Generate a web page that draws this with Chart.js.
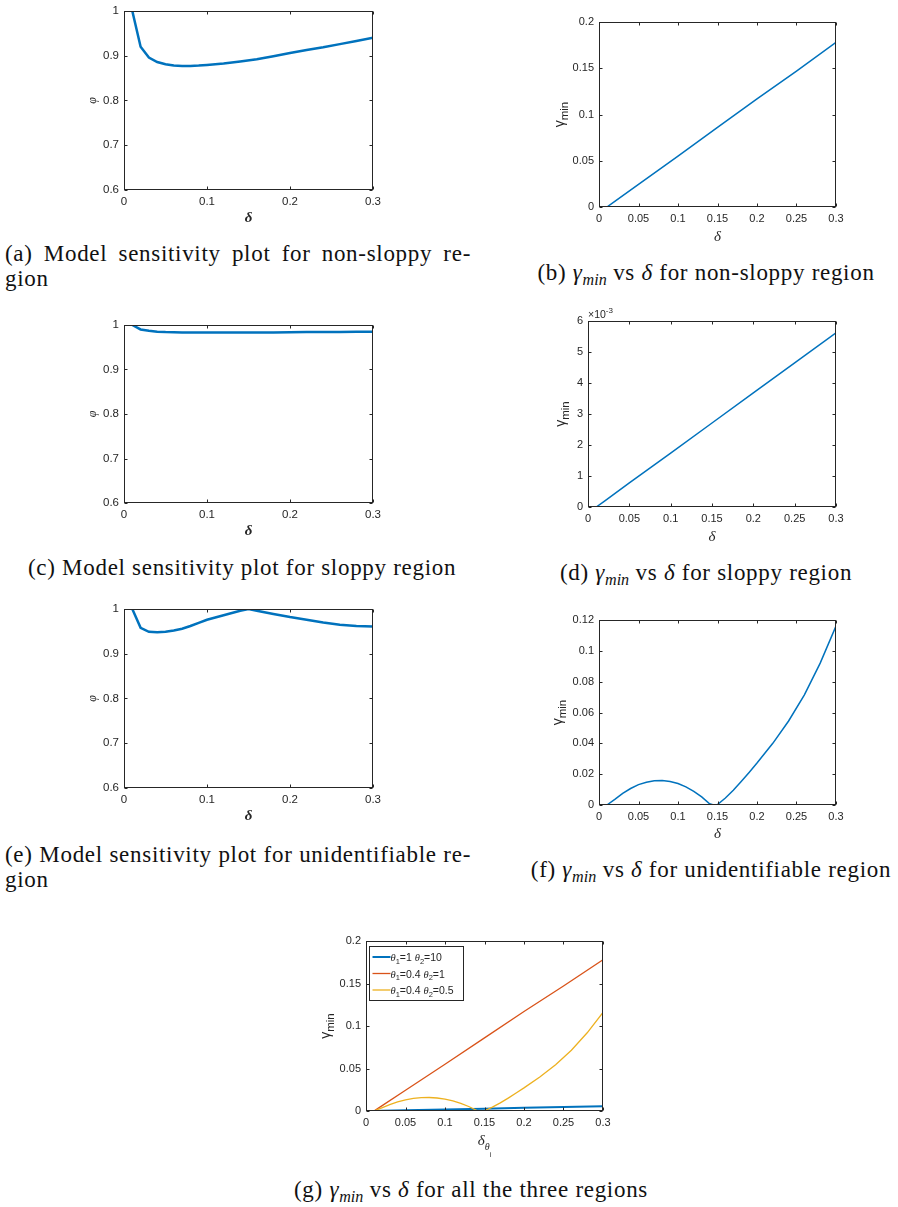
<!DOCTYPE html>
<html>
<head>
<meta charset="utf-8">
<script src="https://cdn.jsdelivr.net/npm/chart.js@4.4.0/dist/chart.umd.min.js"></script>
<style>
  body { margin: 0; background: #fff; width: 898px; height: 1207px; position: relative; overflow: hidden; }
  canvas { position: absolute; }
  .cap { position: absolute; font-family: "Liberation Serif", "Times New Roman", serif; font-size: 23px; line-height: 25px; letter-spacing: 0.7px; color: #111; white-space: nowrap; }
  .cap.c { text-align: center; }
  .just { text-align: justify; text-align-last: justify; }
  .cap sub { font-size: 0.7em; vertical-align: -0.28em; line-height: 0; letter-spacing: 0; }
</style>
</head>
<body>
<canvas id="a"></canvas>
<canvas id="b"></canvas>
<canvas id="c"></canvas>
<canvas id="d"></canvas>
<canvas id="e"></canvas>
<canvas id="f"></canvas>
<canvas id="g"></canvas>

<div class="cap" style="left:5px; top:241px; width:466px;">
  <div class="just">(a) Model sensitivity plot for non-sloppy re-</div>
  <div>gion</div>
</div>
<div class="cap c" style="left:506px; top:260px; width:400px;">(b) <i>γ<sub>min</sub></i> vs <i>δ</i> for non-sloppy region</div>
<div class="cap c" style="left:28px; top:555px; width:420px;">(c) Model sensitivity plot for sloppy region</div>
<div class="cap c" style="left:506px; top:560px; width:400px;">(d) <i>γ<sub>min</sub></i> vs <i>δ</i> for sloppy region</div>
<div class="cap" style="left:5px; top:842px; width:466px;">
  <div class="just">(e) Model sensitivity plot for unidentifiable re-</div>
  <div>gion</div>
</div>
<div class="cap c" style="left:511px; top:857px; width:400px;">(f) <i>γ<sub>min</sub></i> vs <i>δ</i> for unidentifiable region</div>
<div class="cap c" style="left:271px; top:1177px; width:400px;">(g) <i>γ<sub>min</sub></i> vs <i>δ</i> for all the three regions</div>

<script>
// phi vs delta (a, c)
const deltaPhi = [0.01, 0.02, 0.03, 0.04, 0.05, 0.06, 0.07, 0.08, 0.09, 0.1, 0.12, 0.14, 0.16, 0.18, 0.2, 0.22, 0.24, 0.26, 0.28, 0.3];
const phiNonSloppy = [1.0, 0.920, 0.896, 0.886, 0.881, 0.878, 0.877, 0.877, 0.878, 0.8795, 0.8825, 0.887, 0.892, 0.899, 0.906, 0.913, 0.919, 0.926, 0.933, 0.940];
const phiSloppy = [1.0, 0.990, 0.987, 0.985, 0.984, 0.9835, 0.983, 0.983, 0.983, 0.983, 0.983, 0.983, 0.983, 0.983, 0.9835, 0.984, 0.984, 0.9845, 0.985, 0.985];
// phi vs delta (e)
const deltaPhiUnid = [0.01, 0.02, 0.03, 0.04, 0.05, 0.06, 0.07, 0.08, 0.09, 0.1, 0.12, 0.14, 0.15, 0.16, 0.18, 0.2, 0.22, 0.24, 0.26, 0.28, 0.3];
const phiUnid = [1.0, 0.958, 0.949, 0.948, 0.949, 0.952, 0.956, 0.962, 0.969, 0.976, 0.986, 0.996, 1.0, 0.996, 0.989, 0.982, 0.976, 0.970, 0.965, 0.962, 0.961];

// gamma_min vs delta (b, d)
const deltaGamma = [0, 0.01, 0.02, 0.05, 0.1, 0.15, 0.2, 0.25, 0.3];
const gammaNonSloppy = [0, 0, 0.006, 0.0245, 0.055, 0.086, 0.117, 0.147, 0.178];
const gammaSloppy = [0, 0, 0.00019, 0.00078, 0.00174, 0.00271, 0.00368, 0.00465, 0.00562];
// gamma_min vs delta (f)
const deltaGammaUnid = [0, 0.01, 0.02, 0.03, 0.04, 0.05, 0.06, 0.07, 0.08, 0.09, 0.1, 0.11, 0.12, 0.13, 0.14, 0.145, 0.15, 0.16, 0.17, 0.18, 0.19, 0.2, 0.22, 0.24, 0.26, 0.28, 0.3];
const gammaUnid = [0, 0, 0.0037, 0.0076, 0.0107, 0.0132, 0.0148, 0.0157, 0.0159, 0.0153, 0.0139, 0.0118, 0.0089, 0.0053, 0.0008, 0, 0.0003, 0.0045, 0.0095, 0.0152, 0.0211, 0.0272, 0.040, 0.0545, 0.0715, 0.092, 0.116];

const legendLabels = [['1', '10'], ['0.4', '1'], ['0.4', '0.5']];

const BLUE = '#0072BD', RED = '#D95319', YELLOW = '#EDB120';
const INK = '#262626';
const SANS = '"Liberation Sans", Arial, sans-serif';
const SERIF = '"Liberation Serif", "Times New Roman", serif';
const M = { l: 60, t: 20, r: 20, b: 50 };

const fmt = v => String(+v.toFixed(6));

// draw a run of text pieces (for sub/superscripts), optionally rotated
function rich(ctx, segs, x, y, rotate, align) {
  ctx.save();
  ctx.translate(x, y);
  if (rotate) ctx.rotate(-Math.PI / 2);
  ctx.textBaseline = 'alphabetic';
  ctx.textAlign = 'left';
  ctx.fillStyle = INK;
  let w = 0;
  segs.forEach(s => { ctx.font = s.font; w += ctx.measureText(s.t).width; });
  let cx = align === 'left' ? 0 : -w / 2;
  segs.forEach(s => {
    ctx.font = s.font;
    ctx.fillText(s.t, cx, s.dy || 0);
    cx += ctx.measureText(s.t).width;
  });
  ctx.restore();
}

const matlabAxes = {
  id: 'matlabAxes',
  afterDatasetsDraw(chart, args, o) {
    const { ctx, chartArea: a, scales } = chart;
    ctx.save();
    ctx.strokeStyle = INK;
    ctx.lineWidth = 1;
    const l = Math.round(a.left) + 0.5, r = Math.round(a.right) - 0.5;
    const t = Math.round(a.top) + 0.5, b = Math.round(a.bottom) - 0.5;
    ctx.strokeRect(l, t, r - l, b - t);
    const tl = 3;
    ctx.beginPath();
    scales.x.ticks.forEach(k => {
      const px = Math.round(scales.x.getPixelForValue(k.value)) + 0.5;
      ctx.moveTo(px, b); ctx.lineTo(px, b - tl);
      ctx.moveTo(px, t); ctx.lineTo(px, t + tl);
    });
    scales.y.ticks.forEach(k => {
      const py = Math.round(scales.y.getPixelForValue(k.value)) + 0.5;
      ctx.moveTo(l, py); ctx.lineTo(l + tl, py);
      ctx.moveTo(r, py); ctx.lineTo(r - tl, py);
    });
    ctx.stroke();

    if (o.xTitle) rich(ctx, o.xTitle, (a.left + a.right) / 2, a.bottom + o.xOff, false);
    if (o.yTitle) rich(ctx, o.yTitle, a.left - o.yOff, (a.top + a.bottom) / 2, true);
    if (o.exponent) rich(ctx, o.exponent, a.left, a.top - 3, false, 'left');

    if (o.legend) {
      const bx = Math.round(a.left) + 3.5, by = Math.round(a.top) + 5.5;
      ctx.fillStyle = '#fff';
      ctx.fillRect(bx, by, 94, 54);
      ctx.strokeStyle = INK;
      ctx.lineWidth = 1;
      ctx.strokeRect(bx, by, 94, 54);
      chart.data.datasets.forEach((ds, i) => {
        const yy = by + 10.5 + i * 16.5;
        ctx.strokeStyle = ds.borderColor;
        ctx.lineWidth = ds.borderWidth;
        ctx.beginPath();
        ctx.moveTo(bx + 3, yy); ctx.lineTo(bx + 21, yy);
        ctx.stroke();
        const [t1, t2] = legendLabels[i];
        const big = '10.5px ' + SANS, ital = 'italic 10.5px ' + SERIF, small = '7.5px ' + SANS;
        rich(ctx, [
          { t: 'θ', font: ital }, { t: '1', font: small, dy: 2.5 }, { t: '=' + t1 + ' ', font: big },
          { t: 'θ', font: ital }, { t: '2', font: small, dy: 2.5 }, { t: '=' + t2, font: big }
        ], bx + 21, yy + 4, false, 'left');
      });
    }
    ctx.restore();
  }
};
Chart.register(matlabAxes);

function axis(min, max, step, cb, dir, size) {
  return {
    type: 'linear', min, max,
    ticks: { stepSize: step, callback: cb, color: INK, font: { family: SANS, size }, padding: 5, autoSkip: false, maxRotation: 0 },
    grid: { display: false, drawTicks: false },
    border: { display: false },
    afterFit: s => { if (dir === 'x') s.height = M.b; else s.width = M.l; }
  };
}

function series(xs, ys, color, width, order) {
  return {
    data: xs.map((x, i) => ({ x, y: ys[i] })),
    showLine: true, borderColor: color, backgroundColor: color,
    borderWidth: width, pointRadius: 0, tension: 0, fill: false, order: order || 0
  };
}

function plot(id, rect, datasets, xStep, y, titles) {
  const [L, T, R, B] = rect;
  const cv = document.getElementById(id);
  cv.width = R - L + M.l + M.r;
  cv.height = B - T + M.t + M.b;
  cv.style.left = (L - M.l) + 'px';
  cv.style.top = (T - M.t) + 'px';
  const size = titles.tickSize || 11;
  return new Chart(cv, {
    type: 'scatter',
    data: { datasets },
    options: {
      responsive: false, animation: false, devicePixelRatio: 1,
      layout: { padding: { left: 0, top: M.t, right: M.r, bottom: 0 } },
      plugins: { legend: { display: false }, tooltip: { enabled: false }, matlabAxes: titles },
      scales: {
        x: axis(0, 0.3, xStep, fmt, 'x', size),
        y: axis(y.min, y.max, y.step, y.cb || fmt, 'y', size)
      }
    }
  });
}

const phiTitle = [{ t: 'φ', font: 'italic 12px ' + SERIF }];
const deltaBold = [{ t: 'δ', font: 'bold italic 15px ' + SERIF }];
const delta = [{ t: 'δ', font: 'italic 15px ' + SERIF }];
const gammaTitle = [{ t: 'γ', font: '14px ' + SANS }, { t: 'min', font: '11.5px ' + SANS, dy: 4 }];
const phiAxis = { min: 0.6, max: 1, step: 0.1 };

plot('a', [124, 11, 373, 190], [series(deltaPhi, phiNonSloppy, BLUE, 2.5)], 0.1, phiAxis,
  { xTitle: deltaBold, xOff: 32, yTitle: phiTitle, yOff: 28, tickSize: 11.5 });
plot('b', [599, 22, 836, 207], [series(deltaGamma, gammaNonSloppy, BLUE, 1.5)], 0.05,
  { min: 0, max: 0.2, step: 0.05 },
  { xTitle: delta, xOff: 34, yTitle: gammaTitle, yOff: 35 });
plot('c', [124, 325, 373, 503], [series(deltaPhi, phiSloppy, BLUE, 2.5)], 0.1, phiAxis,
  { xTitle: deltaBold, xOff: 32, yTitle: phiTitle, yOff: 28, tickSize: 11.5 });
plot('d', [588, 321, 836, 507], [series(deltaGamma, gammaSloppy, BLUE, 1.5)], 0.05,
  { min: 0, max: 0.006, step: 0.001, cb: v => String(Math.round(v * 1000)) },
  { xTitle: delta, xOff: 34, yTitle: gammaTitle, yOff: 23,
    exponent: [{ t: '×10', font: '10.5px ' + SANS }, { t: '-3', font: '8px ' + SANS, dy: -5 }] });
plot('e', [124, 609, 373, 788], [series(deltaPhiUnid, phiUnid, BLUE, 2.5)], 0.1, phiAxis,
  { xTitle: deltaBold, xOff: 32, yTitle: phiTitle, yOff: 28, tickSize: 11.5 });
plot('f', [599, 620, 836, 805], [series(deltaGammaUnid, gammaUnid, BLUE, 1.5)], 0.05,
  { min: 0, max: 0.12, step: 0.02 },
  { xTitle: delta, xOff: 33, yTitle: gammaTitle, yOff: 37 });
plot('g', [366, 941, 603, 1111], [
    series(deltaGamma, gammaSloppy, BLUE, 2, 3),
    series(deltaGamma, gammaNonSloppy, RED, 1.3, 2),
    series(deltaGammaUnid, gammaUnid, YELLOW, 1.3, 1)
  ], 0.05, { min: 0, max: 0.2, step: 0.05 },
  { xTitle: [{ t: 'δ', font: 'italic 15px ' + SERIF }, { t: 'θ', font: 'italic 10px ' + SERIF, dy: 5 }, { t: 'i', font: '7px ' + SANS, dy: 12 }],
    xOff: 34, yTitle: gammaTitle, yOff: 36, legend: true });
</script>
</body>
</html>
